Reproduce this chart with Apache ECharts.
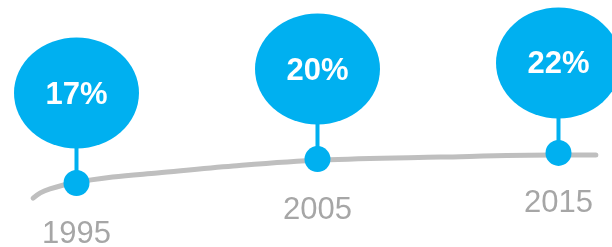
<!DOCTYPE html>
<html>
<head>
<meta charset="utf-8">
<script src="https://cdn.jsdelivr.net/npm/echarts@6/dist/echarts.min.js"></script>
<style>
  html, body { margin: 0; padding: 0; background: #fff; }
  #chart { width: 612px; height: 247px; }
</style>
</head>
<body>
<div id="chart"></div>
<script>
// milestones
const years = [1995, 2005, 2015];
const shares = [17, 20, 22];
// height of each milestone dot on the trend curve (0-100 scale)
const dotLevels = [25.9, 35.6, 38.1];

// the grey trend curve
const curveYears = [1993.2, 1993.5, 1993.9, 1994.85, 1996.5, 1998.35, 2001.5, 2005.15, 2010.1, 2014.8, 2016.55];
const curveLevels = [19.8, 21.9, 23.5, 25.9, 28.3, 30.0, 32.8, 35.2, 36.4, 37.2, 37.2];

const blue = '#00b0f0';
const ellipse = 'path://M50,0 A50,50 0 1,1 50,100 A50,50 0 1,1 50,0 Z';

const curveData = curveYears.map((y, i) => [y, curveLevels[i]]);
const pointData = years.map((y, i) => [y, dotLevels[i], shares[i]]);

const chart = echarts.init(document.getElementById('chart'), null, { renderer: 'canvas' });

const option = {
  animation: false,
  grid: { left: 0, right: 0, top: 0, bottom: 0 },
  xAxis: { type: 'value', min: 1991.826, max: 2017.22, show: false },
  yAxis: { type: 'value', min: 0, max: 100, show: false },
  series: [
    {
      // trend line
      type: 'line',
      data: curveData,
      smooth: 0.35,
      symbol: 'none',
      lineStyle: { color: '#bfbfbf', width: 5, cap: 'round' },
      z: 1
    },
    {
      // stems
      type: 'scatter',
      data: pointData,
      symbol: 'rect',
      symbolSize: [4, 44],
      symbolOffset: [0, -32],
      itemStyle: { color: blue, opacity: 1 },
      z: 2
    },
    {
      // bubbles
      type: 'scatter',
      data: pointData,
      symbol: ellipse,
      symbolSize: [125, 111],
      symbolOffset: [0, -90],
      itemStyle: { color: blue, opacity: 1 },
      label: {
        show: true,
        position: 'inside',
        offset: [0, 2],
        formatter: p => p.value[2] + '%',
        color: '#fff',
        fontSize: 31,
        fontWeight: 'bold',
        fontFamily: 'Liberation Sans'
      },
      z: 3
    },
    {
      // dots with year labels
      type: 'scatter',
      data: pointData,
      symbol: 'circle',
      symbolSize: 26,
      itemStyle: { color: blue, opacity: 1 },
      label: {
        show: true,
        position: 'inside',
        offset: [0, 51],
        formatter: p => String(p.value[0]),
        color: '#a6a6a6',
        fontSize: 31,
        fontFamily: 'Liberation Sans'
      },
      z: 4
    }
  ]
};

chart.setOption(option);
</script>
</body>
</html>
